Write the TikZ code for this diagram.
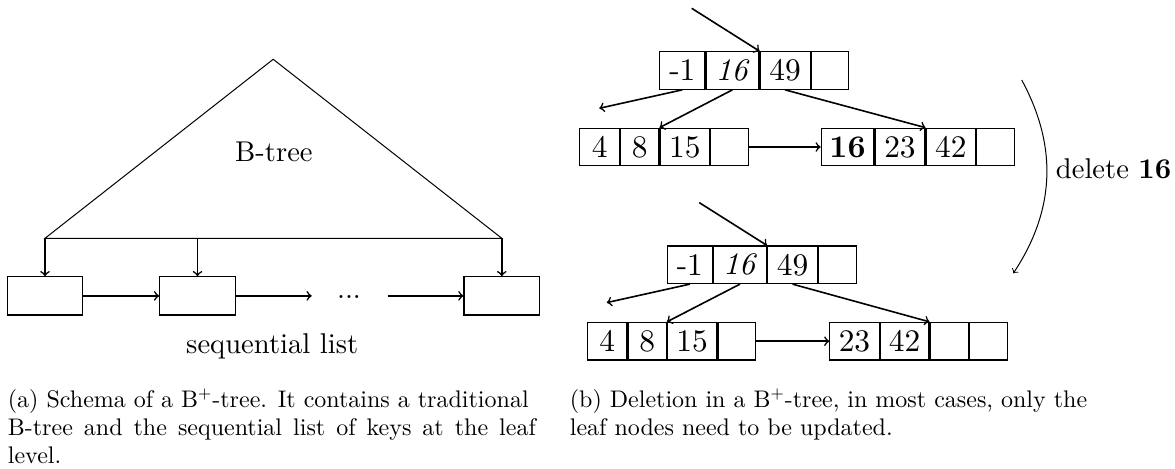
\documentclass[tikz,border=0pt]{standalone}
\usepackage{fontspec}
\setmainfont{lmroman10-regular.otf}[BoldFont=lmroman10-bold.otf, ItalicFont=lmroman10-italic.otf, BoldItalicFont=lmroman10-bolditalic.otf]
\begin{document}
\begin{tikzpicture}[x=0.5pt,y=-0.5pt]
\tikzset{
  frame/.style={draw, line width=0.55pt, inner sep=0pt},
  ptr/.style={->, line width=0.8pt},
  lbl/.style={font=\fontsize{14.3}{17}\selectfont, inner sep=0pt},
  cell/.style={draw, line width=0.55pt, minimum height=18.8pt, inner sep=0pt, anchor=west, font=\fontsize{15.7}{18}\selectfont},
  captext/.style={font=\fontsize{12}{14}\selectfont, inner sep=0pt, anchor=base west},
}
\useasboundingbox (0,0) rectangle (1175,469);

% ---------- (a) ----------
\coordinate (apex) at (273.2,59.3);
\coordinate (bl) at (45,238.3);
\coordinate (br) at (501.8,238.3);
\draw[line width=0.5pt] (apex) -- (bl) -- (br) -- cycle;
\node[lbl, anchor=base] (bt) at (273.9,161.7) {B-tree};
\node[frame, minimum width=37.8pt, minimum height=19.15pt] (s1) at (45,295.9) {};
\node[frame, minimum width=37.8pt, minimum height=19.15pt] (s2) at (197.5,295.9) {};
\node[frame, minimum width=37.8pt, minimum height=19.15pt] (s3) at (501.8,295.9) {};
\draw[ptr] (bl) -- (s1.north);
\draw[ptr] (s2.north |- bl) -- (s2.north);
\draw[ptr] (br) -- (s3.north);
\coordinate (d1) at (311.7,295.9);
\coordinate (d2) at (387.5,295.9);
\draw[ptr] (s1) -- (s2);
\draw[ptr] (s2) -- (d1);
\node[lbl, anchor=base] (dots) at (349,298.5) {...};
\draw[ptr] (d2) -- (s3);
\node[lbl, anchor=base] (sl) at (272.2,353.3) {sequential list};

% ---------- (b) upper ----------
\node[cell, minimum width=22.5pt] (a1) at (659.3,70.5) {-1};
\node[cell, minimum width=26.5pt] (a2) at (a1.east) {\textit{16}};
\node[cell, minimum width=25pt] (a3) at (a2.east) {49};
\node[cell, minimum width=18.85pt] (a4) at (a3.east) {};

\node[cell, minimum width=19.85pt] (b1) at (579.3,147) {4};
\node[cell, minimum width=19.15pt] (b2) at (b1.east) {8};
\node[cell, minimum width=24.7pt] (b3) at (b2.east) {15};
\node[cell, minimum width=18.8pt] (b4) at (b3.east) {};

\node[cell, minimum width=26.3pt] (c1) at (820.7,147) {\textbf{16}};
\node[cell, minimum width=25pt] (c2) at (c1.east) {23};
\node[cell, minimum width=24.7pt] (c3) at (c2.east) {42};
\node[cell, minimum width=19.15pt] (c4) at (c3.east) {};

\coordinate (in1) at (691.7,8.3);
\coordinate (lft1) at (599.3,108.3);
\draw[ptr] (in1) -- (a2.north east);
\draw[ptr] (a1.south) -- (lft1);
\draw[ptr] (a2.south) -- (b2.north east);
\draw[ptr] (a3.south) -- (c2.north east);
\draw[ptr] (b4) -- (c1);

% ---------- transition ----------
\coordinate (arcA) at (1021.7,80);
\coordinate (arcB) at (1013.3,273.3);
\draw[->, line width=0.5pt] (arcA) to[bend left=31] (arcB);
\node[lbl, anchor=base west] (dl) at (1055.5,178.3) {delete \textbf{16}};

% ---------- (b) lower ----------
\node[cell, minimum width=22.5pt] (g1) at (666.8,264.8) {-1};
\node[cell, minimum width=26.5pt] (g2) at (g1.east) {\textit{16}};
\node[cell, minimum width=25pt] (g3) at (g2.east) {49};
\node[cell, minimum width=18.85pt] (g4) at (g3.east) {};

\node[cell, minimum width=19.85pt] (e1) at (586.7,341.2) {4};
\node[cell, minimum width=19.15pt] (e2) at (e1.east) {8};
\node[cell, minimum width=24.7pt] (e3) at (e2.east) {15};
\node[cell, minimum width=18.8pt] (e4) at (e3.east) {};

\node[cell, minimum width=24.6pt] (f1) at (829.3,341.2) {23};
\node[cell, minimum width=24.4pt] (f2) at (f1.east) {42};
\node[cell, minimum width=19.15pt] (f3) at (f2.east) {};
\node[cell, minimum width=19.15pt] (f4) at (f3.east) {};

\coordinate (in2) at (699.2,202.6);
\coordinate (lft2) at (606.8,302.6);
\draw[ptr] (in2) -- (g2.north east);
\draw[ptr] (g1.south) -- (lft2);
\draw[ptr] (g2.south) -- (e2.north east);
\draw[ptr] (g3.south) -- (f2.north east);
\draw[ptr] (e4) -- (f1);

% ---------- captions ----------
\node[captext] (ca1) at (7.5,407.4) {(a) Schema of a B$^+$-tree. It contains a traditional};
\node[captext] (ca2) at (7.5,435.6) {\makebox[264pt][s]{B-tree and the sequential list of keys at the leaf}};
\node[captext] (ca3) at (7.5,463.6) {level.};
\node[captext] (cb1) at (569.5,407.4) {(b) Deletion in a B$^+$-tree, in most cases, only the};
\node[captext] (cb2) at (569.5,435.6) {leaf nodes need to be updated.};
\end{tikzpicture}
\end{document}
